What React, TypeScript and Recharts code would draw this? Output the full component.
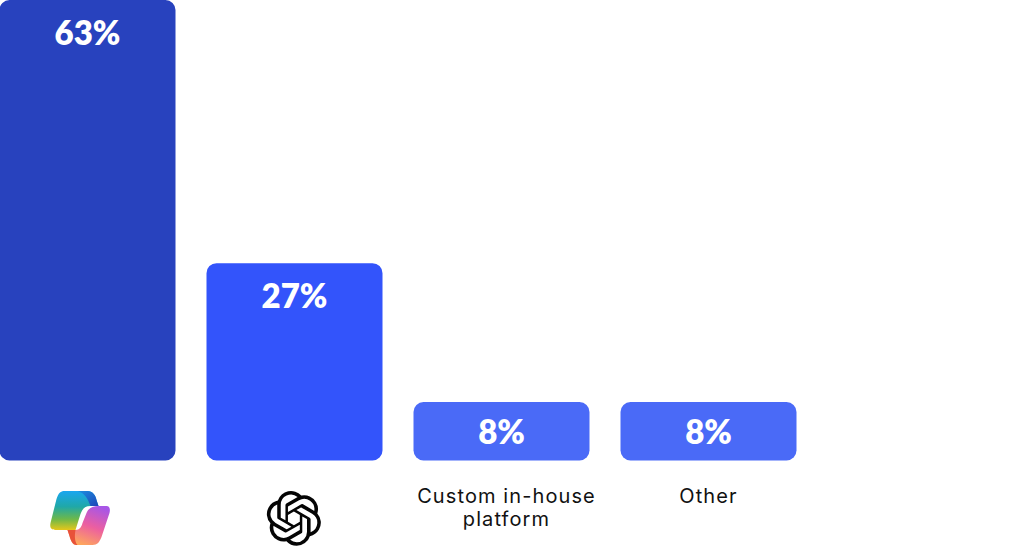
import React from "react";
import { BarChart, Bar, XAxis, YAxis, Cell, LabelList } from "recharts";

const categories = ["Microsoft Copilot", "ChatGPT", "Custom in-house platform", "Other"];
const shares = [63, 27, 8, 8];
const barColors = ["#2842BE", "#3354FB", "#4A6AF7", "#4A6AF7"];
const tickLines: Record<string, string[]> = {
  "Custom in-house platform": ["Custom in-house", "platform"],
  Other: ["Other"],
};
const tickShift: Record<string, number> = { "Custom in-house platform": 5, Other: 0 };
const rows = categories.map((name, i) => ({ name, share: shares[i] }));

const OPENAI =
  "M22.2819 9.8211a5.9847 5.9847 0 0 0-.5157-4.9108 6.0462 6.0462 0 0 0-6.5098-2.9A6.0651 6.0651 0 0 0 4.9807 4.1818a5.9847 5.9847 0 0 0-3.9977 2.9 6.0462 6.0462 0 0 0 .7427 7.0966 5.98 5.98 0 0 0 .511 4.9107 6.051 6.051 0 0 0 6.5146 2.9001A5.9847 5.9847 0 0 0 13.2599 24a6.0557 6.0557 0 0 0 5.7718-4.2058 5.9894 5.9894 0 0 0 3.9977-2.9001 6.0557 6.0557 0 0 0-.7475-7.0729zm-9.022 12.6081a4.4755 4.4755 0 0 1-2.8764-1.0408l.1419-.0804 4.7783-2.7582a.7948.7948 0 0 0 .3927-.6813v-6.7369l2.02 1.1686a.071.071 0 0 1 .038.052v5.5826a4.504 4.504 0 0 1-4.4945 4.4944zm-9.6607-4.1254a4.4708 4.4708 0 0 1-.5346-3.0137l.142.0852 4.783 2.7582a.7712.7712 0 0 0 .7806 0l5.8428-3.3685v2.3324a.0804.0804 0 0 1-.0332.0615L9.74 19.9502a4.4992 4.4992 0 0 1-6.1408-1.6464zM2.3408 7.8956a4.485 4.485 0 0 1 2.3655-1.9728V11.6a.7664.7664 0 0 0 .3879.6765l5.8144 3.3543-2.0201 1.1685a.0757.0757 0 0 1-.071 0l-4.8303-2.7865A4.504 4.504 0 0 1 2.3408 7.872zm16.5963 3.8558L13.1038 8.364 15.1192 7.2a.0757.0757 0 0 1 .071 0l4.8303 2.7913a4.4944 4.4944 0 0 1-.6765 8.1042v-5.6772a.79.79 0 0 0-.407-.667zm2.0107-3.0231l-.142-.0852-4.7735-2.7818a.7759.7759 0 0 0-.7854 0L9.409 9.2297V6.8974a.0662.0662 0 0 1 .0284-.0615l4.8303-2.7866a4.4992 4.4992 0 0 1 6.6802 4.66zM8.3065 12.863l-2.02-1.1638a.0804.0804 0 0 1-.038-.0567V6.0742a4.4992 4.4992 0 0 1 7.3757-3.4537l-.142.0805L8.704 5.459a.7948.7948 0 0 0-.3927.6813zm1.0976-2.3654l2.602-1.4998 2.6069 1.4998v2.9994l-2.5974 1.4997-2.6067-1.4997Z";

function CopilotLogo({ cx }: { cx: number }) {
  return (
    <g transform={`translate(${cx - 38}, 490)`}>
      <path
        d="M15 1 H38 C43 1 46 5 47 10 L49 16 H41 C35 16 33 19 31 24 L26 40 H6 C2 40 0 38 1 33 L7 9 C9 3 11 1 15 1 Z"
        fill="url(#copilotLeft)"
      />
      <path
        d="M28 1 H38 C43 1 46 5 47 10 L49 16 H41 C38 8 35 3 28 1 Z"
        fill="url(#copilotTop)"
      />
      <path
        d="M49 16 H57 C60 16 61 19 60 23 L52 47 C50 52 48 55 43 55 H27 C23 55 21 50 20 46 L18 40 H26 C30 40 32 37 33 33 L37 23 C39 18 43 16 49 16 Z"
        fill="url(#copilotRight)"
      />
      <path d="M18 40 H26 C25 45 25 52 28 55 H27 C23 55 21 50 20 46 Z" fill="#E8523A" />
    </g>
  );
}

function CategoryTick({ x, y, payload }: any) {
  const name = payload.value as string;
  if (name === categories[0]) return <CopilotLogo cx={x} />;
  if (name === categories[1]) {
    return (
      <path d={OPENAI} fill="#050505" transform={`translate(${x - 28}, 491) scale(2.28)`} />
    );
  }
  const lx = x + (tickShift[name] ?? 0);
  return (
    <text
      x={lx}
      y={y}
      textAnchor="middle"
      fill="#111111"
      fontFamily="Inter, sans-serif"
      fontSize={20}
      letterSpacing={1.1}
    >
      {(tickLines[name] ?? [name]).map((line, i) => (
        <tspan key={line} x={lx} y={503 + i * 23}>
          {line}
        </tspan>
      ))}
    </text>
  );
}

function ValueLabel({ x, y, width, height, value }: any) {
  return (
    <text
      x={x + width / 2}
      y={y + Math.min(32, height / 2)}
      textAnchor="middle"
      dominantBaseline="central"
      fill="#ffffff"
      fontFamily="Lato, sans-serif"
      fontWeight={800}
      fontSize={33}
    >
      {value}%
    </text>
  );
}

export default function App() {
  return (
    <div style={{ position: "absolute", left: -16, top: 0, width: 1040, height: 546 }}>
      <BarChart
        width={1040}
        height={546}
        data={rows}
        margin={{ top: 0, right: 212, bottom: 0, left: 0 }}
        barCategoryGap={15.5}
      >
        <defs>
          <linearGradient id="copilotLeft" x1="0" y1="0" x2="0" y2="1">
            <stop offset="0" stopColor="#1AA6F0" />
            <stop offset="0.4" stopColor="#1FA8A8" />
            <stop offset="0.72" stopColor="#6DB84A" />
            <stop offset="1" stopColor="#E6C71A" />
          </linearGradient>
          <linearGradient id="copilotTop" x1="0" y1="0" x2="1" y2="1">
            <stop offset="0" stopColor="#1C8FE0" />
            <stop offset="1" stopColor="#1E45B8" />
          </linearGradient>
          <linearGradient id="copilotRight" x1="0.7" y1="0" x2="0.3" y2="1">
            <stop offset="0" stopColor="#A856E6" />
            <stop offset="0.5" stopColor="#EC5FA0" />
            <stop offset="1" stopColor="#FFA95A" />
          </linearGradient>
        </defs>
        <XAxis
          dataKey="name"
          axisLine={false}
          tickLine={false}
          interval={0}
          height={85.5}
          tick={<CategoryTick />}
        />
        <YAxis hide domain={[0, 63]} />
        <Bar dataKey="share" radius={10} isAnimationActive={false}>
          {rows.map((r, i) => (
            <Cell key={r.name} fill={barColors[i]} />
          ))}
          <LabelList dataKey="share" content={<ValueLabel />} />
        </Bar>
      </BarChart>
    </div>
  );
}
